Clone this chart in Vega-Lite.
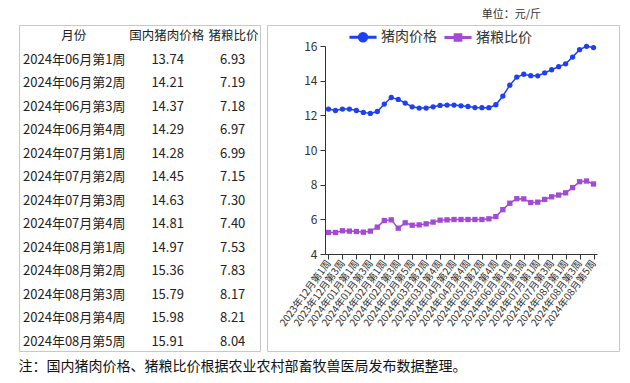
{
  "$schema": "https://vega.github.io/schema/vega-lite/v6.json",
  "background": "white",
  "padding": {"left": 18, "top": 8, "right": 5, "bottom": 5},
  "bounds": "flush",
  "spacing": 7,
  "config": {
    "font": "Noto Sans CJK SC",
    "view": {"stroke": "#c8c8c8", "strokeWidth": 1}
  },
  "title": {
    "text": "注：国内猪肉价格、猪粮比价根据农业农村部畜牧兽医局发布数据整理。",
    "orient": "bottom", "anchor": "start", "fontSize": 14, "fontWeight": "normal",
    "color": "#111", "offset": 8
  },
  "datasets": {
    "weekly": [
      {"week": "2023年12月第1周", "猪肉价格": 12.36, "猪粮比价": 5.24},
      {"week": "2023年12月第2周", "猪肉价格": 12.28, "猪粮比价": 5.24},
      {"week": "2023年12月第3周", "猪肉价格": 12.36, "猪粮比价": 5.34},
      {"week": "2023年12月第4周", "猪肉价格": 12.36, "猪粮比价": 5.32},
      {"week": "2024年01月第1周", "猪肉价格": 12.28, "猪粮比价": 5.30},
      {"week": "2024年01月第2周", "猪肉价格": 12.17, "猪粮比价": 5.26},
      {"week": "2024年01月第3周", "猪肉价格": 12.11, "猪粮比价": 5.32},
      {"week": "2024年01月第4周", "猪肉价格": 12.22, "猪粮比价": 5.55},
      {"week": "2024年02月第1周", "猪肉价格": 12.65, "猪粮比价": 5.93},
      {"week": "2024年02月第2周", "猪肉价格": 13.03, "猪粮比价": 5.97},
      {"week": "2024年02月第3周", "猪肉价格": 12.92, "猪粮比价": 5.49},
      {"week": "2024年02月第4周", "猪肉价格": 12.71, "猪粮比价": 5.80},
      {"week": "2024年02月第5周", "猪肉价格": 12.49, "猪粮比价": 5.66},
      {"week": "2024年03月第1周", "猪肉价格": 12.42, "猪粮比价": 5.68},
      {"week": "2024年03月第2周", "猪肉价格": 12.42, "猪粮比价": 5.74},
      {"week": "2024年03月第3周", "猪肉价格": 12.49, "猪粮比价": 5.84},
      {"week": "2024年03月第4周", "猪肉价格": 12.57, "猪粮比价": 5.95},
      {"week": "2024年04月第1周", "猪肉价格": 12.59, "猪粮比价": 5.97},
      {"week": "2024年04月第2周", "猪肉价格": 12.59, "猪粮比价": 5.99},
      {"week": "2024年04月第3周", "猪肉价格": 12.55, "猪粮比价": 5.99},
      {"week": "2024年04月第4周", "猪肉价格": 12.51, "猪粮比价": 5.99},
      {"week": "2024年05月第1周", "猪肉价格": 12.45, "猪粮比价": 5.99},
      {"week": "2024年05月第2周", "猪肉价格": 12.44, "猪粮比价": 5.99},
      {"week": "2024年05月第3周", "猪肉价格": 12.44, "猪粮比价": 6.03},
      {"week": "2024年05月第4周", "猪肉价格": 12.61, "猪粮比价": 6.16},
      {"week": "2024年05月第5周", "猪肉价格": 13.11, "猪粮比价": 6.56},
      {"week": "2024年06月第1周", "猪肉价格": 13.74, "猪粮比价": 6.93},
      {"week": "2024年06月第2周", "猪肉价格": 14.21, "猪粮比价": 7.19},
      {"week": "2024年06月第3周", "猪肉价格": 14.37, "猪粮比价": 7.18},
      {"week": "2024年06月第4周", "猪肉价格": 14.29, "猪粮比价": 6.97},
      {"week": "2024年07月第1周", "猪肉价格": 14.28, "猪粮比价": 6.99},
      {"week": "2024年07月第2周", "猪肉价格": 14.45, "猪粮比价": 7.15},
      {"week": "2024年07月第3周", "猪肉价格": 14.63, "猪粮比价": 7.30},
      {"week": "2024年07月第4周", "猪肉价格": 14.81, "猪粮比价": 7.40},
      {"week": "2024年08月第1周", "猪肉价格": 14.97, "猪粮比价": 7.53},
      {"week": "2024年08月第2周", "猪肉价格": 15.36, "猪粮比价": 7.83},
      {"week": "2024年08月第3周", "猪肉价格": 15.79, "猪粮比价": 8.17},
      {"week": "2024年08月第4周", "猪肉价格": 15.98, "猪粮比价": 8.21},
      {"week": "2024年08月第5周", "猪肉价格": 15.91, "猪粮比价": 8.04}
    ],
    "table": [
      {"month": "2024年06月第1周", "pork": "13.74", "ratio": "6.93"},
      {"month": "2024年06月第2周", "pork": "14.21", "ratio": "7.19"},
      {"month": "2024年06月第3周", "pork": "14.37", "ratio": "7.18"},
      {"month": "2024年06月第4周", "pork": "14.29", "ratio": "6.97"},
      {"month": "2024年07月第1周", "pork": "14.28", "ratio": "6.99"},
      {"month": "2024年07月第2周", "pork": "14.45", "ratio": "7.15"},
      {"month": "2024年07月第3周", "pork": "14.63", "ratio": "7.30"},
      {"month": "2024年07月第4周", "pork": "14.81", "ratio": "7.40"},
      {"month": "2024年08月第1周", "pork": "14.97", "ratio": "7.53"},
      {"month": "2024年08月第2周", "pork": "15.36", "ratio": "7.83"},
      {"month": "2024年08月第3周", "pork": "15.79", "ratio": "8.17"},
      {"month": "2024年08月第4周", "pork": "15.98", "ratio": "8.21"},
      {"month": "2024年08月第5周", "pork": "15.91", "ratio": "8.04"}
    ]
  },
  "hconcat": [
    {
      "width": 241,
      "height": 326,
      "data": {"name": "table"},
      "encoding": {
        "y": {
          "field": "month", "type": "nominal",
          "scale": {
            "type": "point",
            "domain": ["月份", "2024年06月第1周", "2024年06月第2周", "2024年06月第3周", "2024年06月第4周", "2024年07月第1周", "2024年07月第2周", "2024年07月第3周", "2024年07月第4周", "2024年08月第1周", "2024年08月第2周", "2024年08月第3周", "2024年08月第4周", "2024年08月第5周"],
            "padding": 0.436, "align": 0.56
          },
          "axis": null
        }
      },
      "layer": [
        {
          "mark": {"type": "text", "align": "left", "baseline": "middle", "fontSize": 13, "color": "#222"},
          "encoding": {
            "x": {"datum": "月份", "type": "nominal", "bandPosition": 0.05,
                  "scale": {"type": "band", "domain": ["月份", "国内猪肉价格", "猪粮比价"], "paddingInner": 0, "paddingOuter": 0}, "axis": null},
            "text": {"field": "month"}
          }
        },
        {
          "mark": {"type": "text", "align": "center", "baseline": "middle", "fontSize": 13, "color": "#222"},
          "encoding": {
            "x": {"datum": "国内猪肉价格", "type": "nominal", "bandPosition": 0.85},
            "text": {"field": "pork"}
          }
        },
        {
          "mark": {"type": "text", "align": "center", "baseline": "middle", "fontSize": 13, "color": "#222"},
          "encoding": {
            "x": {"datum": "猪粮比价", "type": "nominal", "bandPosition": 0.66},
            "text": {"field": "ratio"}
          }
        },
        {
          "data": {"values": [{"h": "月份"}]},
          "mark": {"type": "text", "align": "center", "baseline": "middle", "fontSize": 12.5, "color": "#222"},
          "encoding": {
            "x": {"datum": "月份", "type": "nominal", "bandPosition": 0.68},
            "y": {"field": "h", "type": "nominal"},
            "text": {"field": "h"}
          }
        },
        {
          "data": {"values": [{"h": "国内猪肉价格", "r": "月份"}]},
          "mark": {"type": "text", "align": "center", "baseline": "middle", "fontSize": 12.5, "color": "#222"},
          "encoding": {
            "x": {"datum": "国内猪肉价格", "type": "nominal", "bandPosition": 0.84},
            "y": {"field": "r", "type": "nominal"},
            "text": {"field": "h"}
          }
        },
        {
          "data": {"values": [{"h": "猪粮比价", "r": "月份"}]},
          "mark": {"type": "text", "align": "center", "baseline": "middle", "fontSize": 12.5, "color": "#222"},
          "encoding": {
            "x": {"datum": "猪粮比价", "type": "nominal", "bandPosition": 0.67},
            "y": {"field": "r", "type": "nominal"},
            "text": {"field": "h"}
          }
        }
      ]
    },
    {
      "width": 352,
      "height": 326,
      "title": {"text": "单位：元/斤", "anchor": "end", "fontSize": 11, "fontWeight": "normal", "color": "#333", "dx": -78, "offset": 5},
      "data": {"name": "weekly"},
      "transform": [{"fold": ["猪肉价格", "猪粮比价"], "as": ["series", "value"]}],
      "encoding": {
        "x": {
          "field": "week", "type": "ordinal", "sort": null,
          "scale": {"type": "point", "range": [58, 330]},
          "axis": {
            "values": ["2023年12月第1周", "2023年12月第3周", "2024年01月第1周", "2024年01月第3周", "2024年02月第1周", "2024年02月第3周", "2024年02月第5周", "2024年03月第2周", "2024年03月第4周", "2024年04月第2周", "2024年04月第4周", "2024年05月第2周", "2024年05月第4周", "2024年06月第1周", "2024年06月第3周", "2024年07月第1周", "2024年07月第3周", "2024年08月第1周", "2024年08月第3周", "2024年08月第5周"],
            "title": null, "labelAngle": -54, "labelFontSize": 10, "labelColor": "#333",
            "offset": -97, "domainColor": "#333", "tickColor": "#333", "tickSize": 5,
            "labelPadding": 2, "grid": false
          }
        },
        "y": {
          "field": "value", "type": "quantitative",
          "scale": {"domain": [4, 16], "range": [229, 21], "nice": false, "zero": false},
          "axis": {
            "values": [4, 6, 8, 10, 12, 14, 16], "title": null, "offset": -58, "grid": false,
            "labelFontSize": 12, "labelColor": "#333", "tickSize": 5, "labelPadding": 3,
            "domainColor": "#333", "tickColor": "#333"
          }
        },
        "color": {
          "field": "series", "type": "nominal",
          "scale": {"domain": ["猪肉价格", "猪粮比价"], "range": ["#1f3ff2", "#a24ad6"]},
          "legend": {
            "orient": "none", "legendX": 337, "legendY": 5, "direction": "horizontal",
            "title": null, "labelFontSize": 14, "labelColor": "#333", "symbolSize": 64,
            "labelOffset": 11, "columnPadding": 5, "padding": 0, "symbolOpacity": 1
          }
        }
      },
      "layer": [
        {"mark": {"type": "line", "strokeWidth": 1.5}},
        {
          "transform": [{"filter": {"field": "series", "equal": "猪肉价格"}}],
          "mark": {"type": "point", "filled": true, "shape": "circle", "size": 28, "opacity": 1}
        },
        {
          "transform": [{"filter": {"field": "series", "equal": "猪粮比价"}}],
          "mark": {"type": "point", "filled": true, "shape": "square", "size": 28, "opacity": 1}
        },
        {
          "mark": {"type": "point", "filled": true, "size": 0, "opacity": 1},
          "encoding": {
            "shape": {
              "field": "series", "type": "nominal",
              "scale": {"domain": ["猪肉价格", "猪粮比价"], "range": [
                "M-3.2,-0.17H-1V0.17H-3.2Z M1,-0.17H3.2V0.17H1Z M1.12,0A1.12,1.12,0,1,1,-1.12,0A1.12,1.12,0,1,1,1.12,0Z",
                "M-3.2,-0.17H-0.9V0.17H-3.2Z M0.9,-0.17H3.2V0.17H0.9Z M-0.9,-0.9H0.9V0.9H-0.9Z"
              ]},
              "legend": {
                "orient": "none", "legendX": 337, "legendY": 5, "direction": "horizontal",
                "title": null, "labelFontSize": 14, "labelColor": "#333", "symbolSize": 64,
                "labelOffset": 11, "columnPadding": 5, "padding": 0, "symbolOpacity": 1
              }
            }
          }
        }
      ]
    }
  ]
}
